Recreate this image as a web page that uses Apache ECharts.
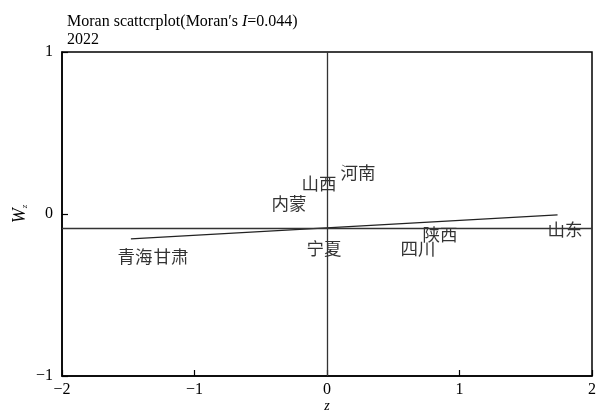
<!DOCTYPE html>
<html><head><meta charset="utf-8">
<script src="https://cdn.jsdelivr.net/npm/echarts@6/dist/echarts.min.js"></script>
<style>html,body{margin:0;padding:0;background:#fff;width:100%;height:100%;overflow:hidden}#c{width:100vw;height:100vh}</style>
</head><body><div id="c"></div>
<script>
const provinces = ['河南','山西','内蒙','青海','甘肃','宁夏','陕西','四川','山东'];
const zValues   = [0.234, -0.06, -0.287, -1.449, -1.177, -0.023, 0.853, 0.687, 1.796];
const wzValues  = [0.259, 0.191, 0.068, -0.264, -0.264, -0.21, -0.123, -0.21, -0.093];
const fitLineZ  = [-1.48, 1.74];
const fitLineWz = [-0.154, -0.006];
const meanWz = -0.086;
const meanZ = 0;

const serif = '"Liberation Serif","DejaVu Serif",serif';
const cjk = '"Noto Sans CJK SC",sans-serif';
const fmt = v => (v < 0 ? '\u2212' + Math.abs(v) : String(v));

const chart = echarts.init(document.getElementById('c'));
chart.setOption({
  animation: false,
  title: {
    left: 62, top: 8,
    text: "{a|Moran scattcrplot(Moran′s }{i|I}{a|=0.044)}\n{a|2022}",
    textStyle: {
      rich: {
        a: {fontFamily: serif, fontSize: 16, color: '#000', lineHeight: 18, fontWeight: 'normal'},
        i: {fontFamily: serif, fontSize: 16, color: '#000', fontStyle: 'italic', lineHeight: 18, fontWeight: 'normal'}
      }
    }
  },
  grid: {left: 62, right: 4, top: 52, bottom: 36, containLabel: false, outerBoundsMode: 'none',
    show: true, borderColor: '#000', borderWidth: 1.5, backgroundColor: '#fff'},
  xAxis: {
    type: 'value', min: -2, max: 2, interval: 1,
    name: 'z', nameLocation: 'middle', nameGap: 23, nameMoveOverlap: false,
    nameTextStyle: {fontFamily: serif, fontSize: 14, fontStyle: 'italic', color: '#000'},
    axisLine: {show: true, onZero: false, lineStyle: {color: '#000', width: 1.5}},
    axisTick: {show: true, inside: true, length: 6, lineStyle: {color: '#000', width: 1.2}},
    axisLabel: {fontFamily: serif, fontSize: 16, color: '#000', margin: 6, formatter: fmt},
    splitLine: {show: false}
  },
  yAxis: {
    type: 'value', min: -1, max: 1, interval: 1,
    name: '{w|W}{s|z}', nameLocation: 'middle', nameGap: 33, nameRotate: 90, nameMoveOverlap: false,
    nameTextStyle: {rich: {
      w: {fontFamily: serif, fontSize: 18, fontStyle: 'italic', color: '#000'},
      s: {fontFamily: serif, fontSize: 9, fontStyle: 'italic', color: '#000', verticalAlign: 'bottom', padding: [8,0,0,0]}
    }},
    axisLine: {show: true, onZero: false, lineStyle: {color: '#000', width: 1.5}},
    axisTick: {show: true, inside: true, length: 6, lineStyle: {color: '#000', width: 1.2}},
    axisLabel: {fontFamily: serif, fontSize: 16, color: '#000', margin: 9, formatter: fmt},
    splitLine: {show: false}
  },
  series: [
    {
      type: 'line',
      data: fitLineZ.map((z, i) => [z, fitLineWz[i]]),
      symbol: 'none',
      lineStyle: {color: '#222', width: 1.3},
      z: 3,
      markLine: {
        silent: true, symbol: 'none', label: {show: false},
        lineStyle: {color: '#333', width: 1.3, type: 'solid'},
        data: [{xAxis: meanZ}, {yAxis: meanWz}]
      }
    },
    {
      type: 'scatter',
      data: zValues.map((z, i) => [z, wzValues[i], provinces[i]]),
      symbolSize: 0.1,
      itemStyle: {color: 'rgba(0,0,0,0)'},
      label: {show: true, position: 'inside', formatter: p => p.data[2],
        fontFamily: cjk, fontSize: 17.5, color: '#000'},
      z: 4
    }
  ]
});
</script></body></html>
